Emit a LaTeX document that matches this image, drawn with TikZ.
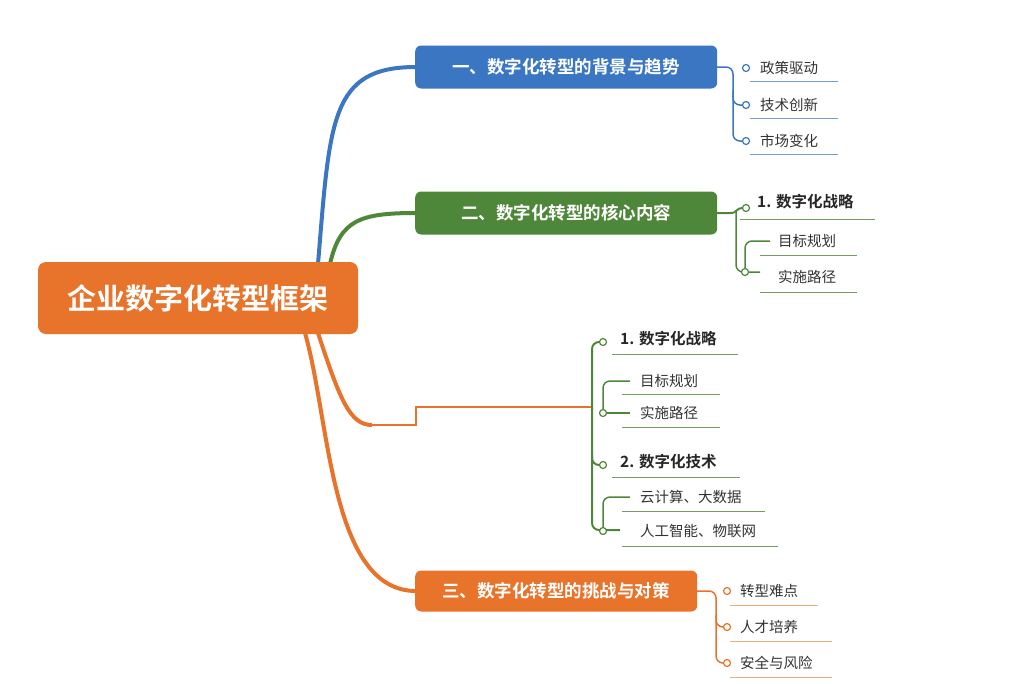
\documentclass[tikz,border=0pt]{standalone}
\usepackage{fontspec}
\setmainfont{Noto Sans CJK SC}
\newfontfamily\cjkb{Noto Sans CJK SC Bold}
\begin{document}
\begin{tikzpicture}[x=1pt,y=-1pt,
  box/.style={rounded corners=6pt,text=white,font=\cjkb\fontsize{17.5}{20}\selectfont,anchor=west,inner xsep=14pt,minimum height=43pt},
  leaf/.style={anchor=west,inner sep=0pt,font=\fontsize{14.5}{16}\selectfont,text=black!80},
  sub/.style={anchor=west,inner sep=0pt,font=\cjkb\fontsize{15.5}{17}\selectfont,text=black!85},
  dot/.style={circle,draw,fill=white,line width=1.2pt,inner sep=0pt,minimum size=7pt}]
\definecolor{cb}{HTML}{3A76C2}\definecolor{cg}{HTML}{4F873A}\definecolor{co}{HTML}{E8732A}
\useasboundingbox (0,0) rectangle (1024,683);
% branches
\draw[cb,line width=4pt] (318,264) .. controls (330,120) and (330,67) .. (416,67);
\draw[cg,line width=4pt] (330,264) .. controls (340,220) and (360,213) .. (416,213);
\draw[co,line width=4pt] (318,333) .. controls (340,400) and (350,425) .. (372,425);
\draw[co,line width=2pt] (370,425) -- (416,425) -- (416,407) -- (592,407);
\draw[co,line width=4pt] (305,333) .. controls (330,420) and (330,591) .. (416,591);
% root
\node[fill=co,rounded corners=8pt,text=white,font=\cjkb\fontsize{29}{31}\selectfont,minimum width=320pt,minimum height=72pt] (root) at (198,298) {企业数字化转型框架};
\node[box,fill=cb,minimum width=302pt] (b1) at (415,67) {一、数字化转型的背景与趋势};
\node[box,fill=cg,minimum width=302pt] (b2) at (415,213) {二、数字化转型的核心内容};
\node[box,fill=co,minimum width=282pt,minimum height=41pt] (b3) at (415,591) {三、数字化转型的挑战与对策};
% blue leaves
\draw[cb,line width=1.5pt,rounded corners=7pt] (717,67) -- (733,67) -- (733,141) -- (744,141);
\draw[cb,line width=1.5pt,rounded corners=7pt] (733,90) -- (733,105) -- (744,105);
\foreach \y/\t/\w in {68/政策驱动/838,105/技术创新/838,141/市场变化/838}{
  \node[dot,draw=cb] (d\y) at (746,\y) {};
  \node[leaf] (l\y) at (760,\y) {\t};
  \draw[cb!70,line width=1pt] (750,\y+13) -- (\w,\y+13);}
% green top
\draw[cg,line width=2pt] (717,213) -- (730,213) .. controls (738,213) and (736,208) .. (742,208);
\draw[cg,line width=1.5pt,rounded corners=7pt] (736,210) -- (736,272) -- (760,272);
\node[dot,draw=cg] (g1) at (746,208) {};
\node[sub] (s1) at (757,202) {1. 数字化战略};
\draw[cg!80,line width=1pt] (740,219) -- (875,219);
\draw[cg,line width=1.5pt,rounded corners=7pt] (745,270) -- (745,241) -- (770,241);
\node[dot,draw=cg] (g2) at (745,272) {};
\node[leaf] (t1) at (778,241) {目标规划};
\node[leaf] (t2) at (778,277) {实施路径};
\draw[cg!80,line width=1pt] (760,255) -- (857,255) (760,292) -- (857,292);
% middle green
\draw[cg,line width=2pt,rounded corners=7pt] (599,342) -- (592,342) -- (592,530) -- (620,530);
\draw[cg,line width=2pt,rounded corners=7pt] (592,455) -- (592,465) -- (599,465);
\node[dot,draw=cg] (m1) at (603,342) {};
\node[sub] (ms1) at (620,339) {1. 数字化战略};
\draw[cg!80,line width=1pt] (612,354) -- (738,354);
\draw[cg,line width=1.5pt,rounded corners=7pt] (603,411) -- (603,381) -- (630,381);
\draw[cg,line width=1.5pt] (606,413) -- (630,413);
\node[dot,draw=cg] (m2) at (603,413) {};
\node[leaf] (mt1) at (640,381) {目标规划};
\node[leaf] (mt2) at (640,413) {实施路径};
\draw[cg!80,line width=1pt] (622,394) -- (720,394) (622,427) -- (720,427);
\node[dot,draw=cg] (m3) at (603,465) {};
\node[sub] (ms2) at (620,462) {2. 数字化技术};
\draw[cg!80,line width=1pt] (612,477) -- (740,477);
\draw[cg,line width=1.5pt,rounded corners=7pt] (603,529) -- (603,497) -- (630,497);
\node[dot,draw=cg] (m4) at (603,531) {};
\node[leaf] (mt3) at (640,497) {云计算、大数据};
\node[leaf] (mt4) at (640,531) {人工智能、物联网};
\draw[cg!80,line width=1pt] (622,511) -- (765,511) (622,546) -- (778,546);
% orange leaves
\draw[co,line width=1.5pt,rounded corners=7pt] (697,591) -- (716,591) -- (716,663) -- (724,663);
\draw[co,line width=1.5pt,rounded corners=7pt] (716,615) -- (716,627) -- (724,627);
\foreach \y/\t/\w in {591/转型难点/818,627/人才培养/832,663/安全与风险/832}{
  \node[dot,draw=co] (o\y) at (727,\y) {};
  \node[leaf] (ol\y) at (740,\y) {\t};
  \draw[co!60,line width=1pt] (730,\y+14) -- (\w,\y+14);}
\end{tikzpicture}
\end{document}
